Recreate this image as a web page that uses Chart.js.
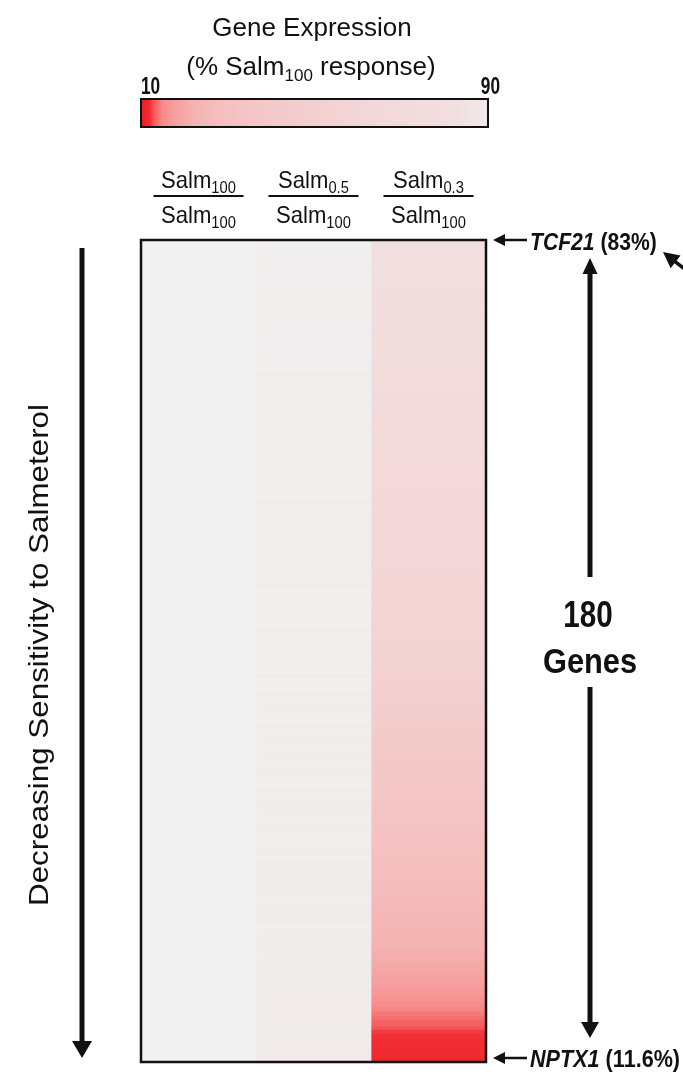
<!DOCTYPE html>
<html>
<head>
<meta charset="utf-8">
<title>Salmeterol dose response heatmap</title>
<script src="https://cdn.jsdelivr.net/npm/chart.js@4.4.1/dist/chart.umd.min.js"></script>
<style>
  html, body { margin: 0; padding: 0; background: #ffffff; }
  #wrap { position: relative; width: 683px; height: 1077px; }
</style>
</head>
<body>
<div id="wrap"><canvas id="heatmap"></canvas></div>
<script>
// expression as % of the full Salm100 response, genes ordered top to bottom
const salm100 = [
    100, 100, 100, 100, 100, 100, 100, 100, 100, 100, 100, 100, 100, 100, 100, 100, 100, 100, 100, 100,
    100, 100, 100, 100, 100, 100, 100, 100, 100, 100, 100, 100, 100, 100, 100, 100, 100, 100, 100, 100,
    100, 100, 100, 100, 100, 100, 100, 100, 100, 100, 100, 100, 100, 100, 100, 100, 100, 100, 100, 100,
    100, 100, 100, 100, 100, 100, 100, 100, 100, 100, 100, 100, 100, 100, 100, 100, 100, 100, 100, 100,
    100, 100, 100, 100, 100, 100, 100, 100, 100, 100, 100, 100, 100, 100, 100, 100, 100, 100, 100, 100,
    100, 100, 100, 100, 100, 100, 100, 100, 100, 100, 100, 100, 100, 100, 100, 100, 100, 100, 100, 100,
    100, 100, 100, 100, 100, 100, 100, 100, 100, 100, 100, 100, 100, 100, 100, 100, 100, 100, 100, 100,
    100, 100, 100, 100, 100, 100, 100, 100, 100, 100, 100, 100, 100, 100, 100, 100, 100, 100, 100, 100,
    100, 100, 100, 100, 100, 100, 100, 100, 100, 100, 100, 100, 100, 100, 100, 100, 100, 100, 100, 100
];
const salm05 = [
    97, 97, 96, 97, 96, 96, 95, 96, 97, 96, 95, 96, 96, 94, 96, 96, 95, 96, 97, 96,
    96, 95, 96, 96, 97, 96, 95, 96, 96, 93, 96, 95, 96, 96, 95, 96, 94, 96, 95, 96,
    95, 96, 96, 95, 96, 94, 96, 95, 95, 96, 96, 95, 94, 96, 95, 96, 96, 93, 95, 96,
    95, 96, 95, 94, 96, 95, 96, 95, 93, 95, 96, 95, 94, 95, 96, 92, 95, 95, 96, 94,
    95, 96, 94, 95, 95, 93, 96, 95, 94, 95, 92, 95, 96, 94, 95, 93, 95, 94, 96, 93,
    95, 94, 93, 95, 94, 95, 92, 94, 95, 93, 94, 95, 92, 94, 95, 94, 93, 91, 94, 95,
    93, 94, 95, 92, 94, 93, 95, 94, 91, 93, 94, 95, 92, 94, 93, 95, 92, 94, 93, 91,
    94, 93, 92, 94, 95, 91, 93, 94, 92, 93, 95, 92, 94, 91, 93, 92, 94, 93, 91, 92,
    93, 92, 91, 93, 92, 90, 92, 93, 91, 92, 90, 92, 91, 93, 90, 92, 91, 90, 92, 91
];
const salm03 = [
    83, 82.4, 82.1, 81.5, 81.2, 80.8, 80.5, 80.3, 79.8, 79.6, 79.1, 78.9, 78.7, 78.2, 78, 77.6, 77.5, 77.1, 76.8, 76.4,
    76.3, 75.9, 75.8, 75.4, 75.1, 75, 74.6, 74.5, 74.1, 74, 73.6, 73.4, 73.1, 72.7, 72.5, 72.2, 71.8, 71.5, 71.1, 70.8,
    70.5, 70.1, 69.8, 69.4, 69.1, 68.8, 68.3, 68, 67.7, 67.3, 67, 66.6, 66.2, 65.9, 65.5, 65.2, 64.8, 64.4, 64, 63.7,
    63.3, 63, 62.6, 62.2, 61.9, 61.5, 61.2, 60.8, 60.5, 60.1, 59.8, 59.6, 59.3, 59.1, 58.9, 58.6, 58.4, 58.3, 58.1, 58,
    57.5, 57.1, 56.8, 56.4, 56, 55.6, 55.3, 54.9, 54.5, 54.1, 53.7, 53.4, 53, 52.6, 52.2, 51.8, 51.4, 51, 50.5, 50,
    49, 48.3, 47.6, 46.9, 46.1, 45.4, 44.6, 43.9, 43.2, 42.5, 41.8, 41.1, 40.4, 39.7, 39, 38.3, 37.6, 36.9, 36.2, 35.5,
    35, 34.6, 34.2, 33.8, 33.4, 33, 32.6, 32.2, 31.8, 31.4, 31, 30.6, 30.3, 29.8, 29.4, 29.1, 28.7, 28.3, 28, 27.6,
    27.3, 26.9, 26.6, 26.2, 25.8, 25.5, 25.1, 24.8, 24.4, 24.1, 23.7, 23.4, 23, 22.7, 22.3, 21.8, 21.2, 20.7, 20.1, 19.6,
    19.1, 18.5, 18, 17.4, 16.8, 16.3, 15.8, 15.2, 14.7, 14.2, 13.8, 13.3, 12.9, 12.3, 12.1, 12, 11.9, 11.8, 11.7, 11.6
];
const doseSubs = ['100', '0.5', '0.3'];
const refSub = '100';
const scaleTicks = [10, 90];
const topGene = 'TCF21';
const bottomGene = 'NPTX1';
const geneRank = salm03.map((v, i) => i + 1);

const FONT = "'Liberation Sans', Arial, Helvetica, sans-serif";

// white -> red ramp keyed on % response
const shadeStops = [
    [10, [236, 28, 36]],
    [12, [240, 45, 50]],
    [13, [245, 90, 92]],
    [15, [247, 140, 140]],
    [18, [246, 160, 160]],
    [22, [245, 178, 178]],
    [28, [245, 190, 190]],
    [35, [244, 198, 199]],
    [45, [243, 204, 204]],
    [60, [243, 214, 215]],
    [83, [242, 224, 224]],
    [90, [241, 234, 234]],
    [100, [241, 241, 241]]
];

function toRgb(c) {
    return 'rgb(' + c.join(',') + ')';
}

function shade(v) {
    if (v <= shadeStops[0][0]) return toRgb(shadeStops[0][1]);
    for (let i = 1; i < shadeStops.length; i++) {
        const [v1, c1] = shadeStops[i];
        if (v <= v1) {
            const [v0, c0] = shadeStops[i - 1];
            const t = (v - v0) / (v1 - v0);
            return toRgb(c0.map((c, k) => Math.round(c + (c1[k] - c) * t)));
        }
    }
    return toRgb(shadeStops[shadeStops.length - 1][1]);
}

// draws a row of text pieces (different sizes / offsets) squeezed horizontally
function drawRuns(ctx, runs, x, y, align, sx) {
    let total = 0;
    runs.forEach(r => {
        ctx.font = r.font;
        r.w = ctx.measureText(r.t).width * sx;
        total += r.w;
    });
    let cx = x;
    if (align === 'center') cx = x - total / 2;
    if (align === 'right') cx = x - total;
    ctx.textAlign = 'left';
    ctx.textBaseline = 'alphabetic';
    runs.forEach(r => {
        ctx.save();
        ctx.font = r.font;
        ctx.translate(cx, y + (r.dy || 0));
        ctx.scale(sx, 1);
        ctx.fillText(r.t, 0, 0);
        ctx.restore();
        cx += r.w;
    });
    return total;
}

function arrow(ctx, x0, y0, x1, y1, width, headLen, headHalf) {
    const len = Math.hypot(x1 - x0, y1 - y0);
    ctx.save();
    ctx.translate(x0, y0);
    ctx.rotate(Math.atan2(y1 - y0, x1 - x0));
    ctx.fillRect(0, -width / 2, len - headLen + 1, width);
    ctx.beginPath();
    ctx.moveTo(len, 0);
    ctx.lineTo(len - headLen, -headHalf);
    ctx.lineTo(len - headLen, headHalf);
    ctx.closePath();
    ctx.fill();
    ctx.restore();
}

const decorations = {
    id: 'decorations',
    afterDraw(chart) {
        const { ctx, chartArea: area, scales } = chart;
        ctx.save();
        ctx.fillStyle = '#111';
        ctx.strokeStyle = '#111';

        // frame around the heatmap
        ctx.lineWidth = 2.5;
        ctx.strokeRect(area.left, area.top, area.right - area.left, area.bottom - area.top);

        // colour key
        const kx = 141, ky = 99, kw = 347, kh = 28;
        const grad = ctx.createLinearGradient(kx, 0, kx + kw, 0);
        shadeStops.forEach(([v, c]) => {
            if (v >= scaleTicks[0] && v <= scaleTicks[1]) {
                grad.addColorStop((v - scaleTicks[0]) / (scaleTicks[1] - scaleTicks[0]), toRgb(c));
            }
        });
        ctx.fillStyle = grad;
        ctx.fillRect(kx, ky, kw, kh);
        ctx.lineWidth = 2;
        ctx.strokeRect(kx, ky, kw, kh);
        ctx.fillStyle = '#111';

        drawRuns(ctx, [{ t: 'Gene Expression', font: '26px ' + FONT }], 312, 36, 'center', 1);
        drawRuns(ctx, [
            { t: '(% Salm', font: '26px ' + FONT },
            { t: '100', font: '17px ' + FONT, dy: 6 },
            { t: ' response)', font: '26px ' + FONT }
        ], 311, 75, 'center', 1);
        drawRuns(ctx, [{ t: String(scaleTicks[0]), font: 'bold 23px ' + FONT }], 141, 94, 'left', 0.75);
        drawRuns(ctx, [{ t: String(scaleTicks[1]), font: 'bold 23px ' + FONT }], 500, 94, 'right', 0.75);

        // ratio headers above each column
        doseSubs.forEach((sub, c) => {
            const cx = scales.x.getPixelForValue(c + 0.5);
            drawRuns(ctx, [
                { t: 'Salm', font: '24px ' + FONT },
                { t: sub, font: '16px ' + FONT, dy: 5 }
            ], cx, 188, 'center', 0.92);
            ctx.fillRect(cx - 45, 195, 90, 2);
            drawRuns(ctx, [
                { t: 'Salm', font: '24px ' + FONT },
                { t: refSub, font: '16px ' + FONT, dy: 5 }
            ], cx, 223, 'center', 0.92);
        });

        // sensitivity arrow and its label
        arrow(ctx, 82, 248, 82, 1058, 5, 17, 10);
        ctx.save();
        ctx.translate(48, 655);
        ctx.rotate(-Math.PI / 2);
        drawRuns(ctx, [{ t: 'Decreasing Sensitivity to Salmeterol', font: '28px ' + FONT }], 0, 0, 'center', 1.12);
        ctx.restore();

        // first and last gene callouts
        arrow(ctx, 527, 240, 493, 240, 2.5, 12, 6);
        drawRuns(ctx, [
            { t: topGene, font: 'italic bold 24px ' + FONT },
            { t: ' (' + salm03[0] + '%)', font: 'bold 24px ' + FONT }
        ], 530, 250, 'left', 0.88);
        arrow(ctx, 705, 285, 663, 252, 3.5, 16, 8);

        arrow(ctx, 527, 1058, 493, 1058, 2.5, 12, 6);
        drawRuns(ctx, [
            { t: bottomGene, font: 'italic bold 24px ' + FONT },
            { t: ' (' + salm03[salm03.length - 1] + '%)', font: 'bold 24px ' + FONT }
        ], 530, 1067, 'left', 0.9);

        // gene count span
        arrow(ctx, 590, 577, 590, 258, 5, 16, 7.5);
        arrow(ctx, 590, 687, 590, 1038, 5, 16, 9);
        drawRuns(ctx, [{ t: String(salm03.length), font: 'bold 37px ' + FONT }], 588, 627, 'center', 0.8);
        drawRuns(ctx, [{ t: 'Genes', font: 'bold 35px ' + FONT }], 590, 673, 'center', 0.88);

        ctx.restore();
    }
};

const columns = [salm100, salm05, salm03];

new Chart(document.getElementById('heatmap'), {
    type: 'bar',
    data: {
        labels: geneRank,
        datasets: columns.map((values, c) => ({
            label: 'Salm' + doseSubs[c] + ' / Salm' + refSub,
            data: values.map(() => 1),
            backgroundColor: values.map(shade),
            borderWidth: 0,
            categoryPercentage: 1,
            barPercentage: 1
        }))
    },
    options: {
        indexAxis: 'y',
        responsive: true,
        maintainAspectRatio: false,
        animation: false,
        layout: {
            padding: { left: 141, right: 197, top: 240, bottom: 15 }
        },
        plugins: {
            legend: { display: false },
            tooltip: { enabled: false }
        },
        scales: {
            x: { stacked: true, min: 0, max: 3, display: false },
            y: { stacked: true, display: false }
        }
    },
    plugins: [decorations]
});
</script>
</body>
</html>
